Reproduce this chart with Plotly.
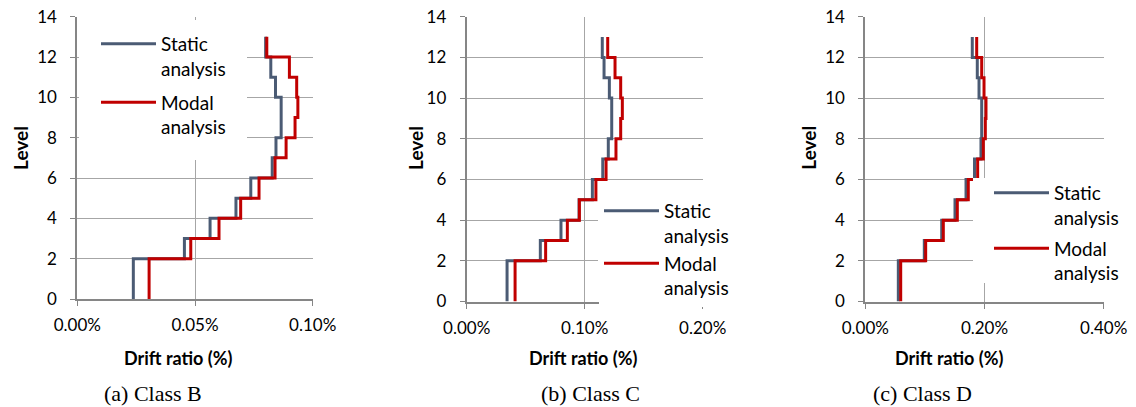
import plotly.graph_objects as go

# Storey boundaries (levels) for the step profiles
level_bounds = [0, 2, 3, 4, 5, 6, 7, 8, 9, 10, 11, 12, 13]

# Drift ratio (%) per storey segment: [0-2],[2-3],...,[12-13]
b_static = [0.0238, 0.0455, 0.0564, 0.0674, 0.0737, 0.0828, 0.0844, 0.0866, 0.0866, 0.0842, 0.0822, 0.0800]
b_modal = [0.0305, 0.0482, 0.0602, 0.0694, 0.0772, 0.0840, 0.0887, 0.0925, 0.0937, 0.0932, 0.0901, 0.0805]

c_static = [0.0342, 0.0624, 0.0799, 0.0952, 0.1065, 0.1153, 0.1200, 0.1229, 0.1229, 0.1209, 0.1164, 0.1149]
c_modal = [0.0410, 0.0669, 0.0853, 0.0955, 0.1095, 0.1181, 0.1265, 0.1305, 0.1319, 0.1305, 0.1257, 0.1195]

d_static = [0.0554, 0.0990, 0.1282, 0.1505, 0.1690, 0.1832, 0.1941, 0.1953, 0.1953, 0.1908, 0.1879, 0.1795]
d_modal = [0.0594, 0.1013, 0.1309, 0.1544, 0.1728, 0.1885, 0.1980, 0.2014, 0.2025, 0.1992, 0.1953, 0.1869]

x_max = [0.10, 0.20, 0.40]
x_dtick = [0.05, 0.10, 0.20]
captions = ["(a) Class B", "(b) Class C", "(c) Class D"]
series_names = ["Static<br>analysis", "Modal<br>analysis"]

W, H = 1136, 407
STATIC_COL = "#4B5B74"
MODAL_COL = "#C00000"
AX_COL = "#868686"
GRID_COL = "#A6A6A6"
FONT = "Lato"

def px_x(p):
    return p / W

def px_y(p):
    return 1 - p / H

# plot-area pixel boxes: (left, right, top, bottom)
boxes = [(77.3, 312.7, 16.7, 299.0), (466.7, 702.7, 16.7, 301.5), (865.3, 1103.7, 16.7, 301.5)]
# legend background boxes (left, right, top, bottom) in pixels
legend_boxes = [(79, 247, 20, 160), (598, 740, 193, 297), (973, 1136, 178, 283)]

fig = go.Figure()
panels = [(b_static, b_modal), (c_static, c_modal), (d_static, d_modal)]
legend_ids = ["legend", "legend2", "legend3"]

for i, (st, mo) in enumerate(panels):
    xa = "x" if i == 0 else f"x{i+1}"
    ya = "y" if i == 0 else f"y{i+1}"
    for vals, name, col in ((st, series_names[0], STATIC_COL), (mo, series_names[1], MODAL_COL)):
        fig.add_trace(go.Scatter(
            x=list(vals) + [vals[-1]], y=level_bounds,
            mode="lines", line=dict(color=col, width=3, shape="vh"),
            name=name, xaxis=xa, yaxis=ya, legend=legend_ids[i],
            legendgroup=f"{i}-{name}", hoverinfo="skip",
        ))

layout = dict(
    width=W, height=H, margin=dict(l=0, r=0, t=0, b=0, autoexpand=False),
    paper_bgcolor="white", plot_bgcolor="white",
    font=dict(family=FONT, color="#000000", size=17),
)

for i, (l, r, t, b) in enumerate(boxes):
    sx = "xaxis" if i == 0 else f"xaxis{i+1}"
    sy = "yaxis" if i == 0 else f"yaxis{i+1}"
    anchor_x = "y" if i == 0 else f"y{i+1}"
    anchor_y = "x" if i == 0 else f"x{i+1}"
    layout[sx] = dict(
        domain=[px_x(l), px_x(r)], anchor=anchor_x, range=[0, x_max[i]],
        dtick=x_dtick[i], tick0=0, tickformat=".2f", ticksuffix="%",
        showgrid=True, gridcolor=GRID_COL, gridwidth=1,
        showline=True, linecolor=AX_COL, linewidth=2,
        ticks="outside", ticklen=5, tickcolor=AX_COL, tickwidth=1,
        zeroline=False, tickfont=dict(size=17, family=FONT, color="#000"),
        ticklabelstandoff=5, automargin=False,
    )
    layout[sy] = dict(
        domain=[px_y(b), px_y(t)], anchor=anchor_y, range=[0, 14], dtick=2, tick0=0,
        showgrid=True, gridcolor=GRID_COL, gridwidth=1,
        showline=True, linecolor=AX_COL, linewidth=2,
        ticks="outside", ticklen=5, tickcolor=AX_COL, tickwidth=1,
        zeroline=False, tickfont=dict(size=17, family=FONT, color="#000"),
        ticklabelstandoff=10, automargin=False,
    )

leg_common = dict(bgcolor="white", borderwidth=0, font=dict(family=FONT, size=19, color="#000"),
                  xanchor="left", yanchor="top", valign="top", itemwidth=55,
                  traceorder="grouped", itemclick=False, itemdoubleclick=False)
layout["legend"] = dict(leg_common, x=px_x(96), y=px_y(25), tracegroupgap=6)
layout["legend2"] = dict(leg_common, x=px_x(599), y=px_y(192), tracegroupgap=0)
layout["legend3"] = dict(leg_common, x=px_x(989), y=px_y(174), tracegroupgap=3)

shapes = []
for (l, r, t, b) in legend_boxes:
    shapes.append(dict(type="rect", xref="paper", yref="paper", x0=px_x(l), x1=px_x(r),
                       y0=px_y(b), y1=px_y(t), fillcolor="white", line=dict(width=0), layer="above"))
layout["shapes"] = shapes

annotations = []
level_x = [20, 415, 807.7]
title_x = [178.7, 583.7, 949.3]
caption_x = [153, 591, 922.7]
for i in range(3):
    annotations.append(dict(text="<b>Level</b>", x=px_x(level_x[i]), y=px_y(148), xref="paper", yref="paper",
                            showarrow=False, textangle=-90, font=dict(family=FONT, size=19, color="#000"),
                            xanchor="center", yanchor="middle"))
    annotations.append(dict(text="<b>Drift ratio (%)</b>", x=px_x(title_x[i]), y=px_y(358), xref="paper", yref="paper",
                            showarrow=False, font=dict(family=FONT, size=18, color="#000"),
                            xanchor="center", yanchor="middle"))
    annotations.append(dict(text=captions[i], x=px_x(caption_x[i]), y=px_y(393), xref="paper", yref="paper",
                            showarrow=False, font=dict(family="Liberation Serif", size=22, color="#000"),
                            xanchor="center", yanchor="middle"))
layout["annotations"] = annotations

fig.update_layout(**layout)
fig.write_html("out.html", config={"displayModeBar": False},
               post_script="document.body.style.margin='0';document.body.style.overflow='hidden';")
